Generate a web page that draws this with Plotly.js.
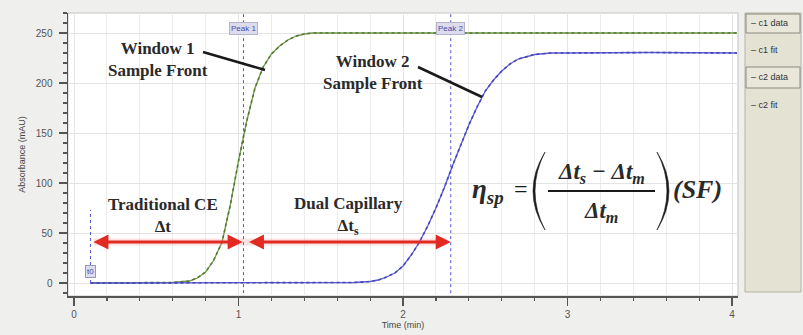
<!DOCTYPE html>
<html><head><meta charset="utf-8">
<script src="https://cdn.plot.ly/plotly-3.0.1.min.js"></script>
<style>html,body{margin:0;padding:0;background:#efefed;} #chart{width:803px;height:335px;}</style>
</head><body><div id="chart"></div>
<script>
// ---- data ----
const c1Time = [0.1,0.3,0.5,0.6,0.7,0.75,0.8,0.85,0.9,0.95,1.0,1.05,1.1,1.15,1.2,1.25,1.3,1.35,1.4,1.45,1.7,2.0,3.0,4.03];
const c1Abs  = [0,0,0,0.5,2,5,11,23,41,78,122,162,195,216,229,237,243,247,249,250,250,250,250,250];
const c2Time = [0.1,0.5,1.0,1.5,1.7,1.8,1.85,1.9,1.95,2.0,2.05,2.1,2.15,2.2,2.25,2.3,2.35,2.4,2.45,2.5,2.55,2.6,2.65,2.7,2.8,2.9,3.0,3.5,4.03];
const c2Abs  = [0,0,0,0,0.5,1.5,3,6,10,17,28,41,57,75,95,117,138,158,176,192,203,212,219,224,228.5,230,230,230.5,230];
const markerNames = ['t0','Peak 1','Peak 2'];
const markerTimes = [0.1,1.03,2.29];
const legendNames = ['c1 data','c1 fit','c2 data','c2 fit'];
const arrowLevel = 41;
const t0Top = 73;

// ---- layout helpers (pixel -> paper) ----
const L=68, R=738, T=13, B=296;
const px = v => (v-L)/(R-L);
const py = v => (B-v)/(B-T);

const green = '#6f9a48', blue = '#5c5cd6', mark = '#5555cc', red = '#e22a22';
const serif = 'Liberation Serif, Times New Roman, serif';
const sans = 'Liberation Sans, Arial, sans-serif';

const traces = [
  {x:c1Time, y:c1Abs, name:legendNames[1], mode:'lines', line:{color:green,width:1.3}},
  {x:c1Time, y:c1Abs, name:legendNames[0], mode:'lines', line:{color:'#557a35',width:1.6,dash:'dot'}},
  {x:c2Time, y:c2Abs, name:legendNames[3], mode:'lines', line:{color:blue,width:1.3}},
  {x:c2Time, y:c2Abs, name:legendNames[2], mode:'lines', line:{color:'#4646b8',width:1.6,dash:'dot'}}
];

const shapes = [
  {type:'rect', xref:'paper', yref:'paper', x0:0, x1:1, y0:0, y1:1, line:{color:'#c4c4c4',width:1}, layer:'below'},
  // peak lines
  {type:'line', xref:'x', yref:'paper', x0:markerTimes[1], x1:markerTimes[1], y0:0.01, y1:1, line:{color:mark,width:1,dash:'dot'}},
  {type:'line', xref:'x', yref:'paper', x0:markerTimes[2], x1:markerTimes[2], y0:0.01, y1:1, line:{color:mark,width:1,dash:'dot'}},
  {type:'line', xref:'x', yref:'y', x0:markerTimes[0], x1:markerTimes[0], y0:0, y1:t0Top, line:{color:mark,width:1,dash:'dot'}},
  // arrow glow
  {type:'line', xref:'x', yref:'y', x0:markerTimes[0]+0.02, x1:markerTimes[2]-0.02, y0:arrowLevel, y1:arrowLevel, line:{color:'rgba(240,120,120,0.22)',width:7}},
  // pointer lines
  {type:'line', xref:'paper', yref:'paper', x0:px(203), y0:py(52), x1:px(265), y1:py(70), line:{color:'#1a1a1a',width:2.5}},
  {type:'line', xref:'paper', yref:'paper', x0:px(418), y0:py(67), x1:px(482), y1:py(97), line:{color:'#1a1a1a',width:2.5}},
  // fraction bar
  {type:'line', xref:'paper', yref:'paper', x0:px(548), y0:py(191), x1:px(655), y1:py(191), line:{color:'#1a1a1a',width:1.8}},
  // legend panel
  {type:'rect', xref:'paper', yref:'paper', x0:px(745), x1:px(801), y0:py(292), y1:py(13), fillcolor:'#e4e2d2', line:{color:'#b5b3a3',width:1}},
  {type:'rect', xref:'paper', yref:'paper', x0:px(746), x1:px(800), y0:py(33), y1:py(14), fillcolor:'#e9e7da', line:{color:'#8c8a80',width:1}},
  {type:'rect', xref:'paper', yref:'paper', x0:px(746), x1:px(800), y0:py(88), y1:py(67), fillcolor:'#e9e7da', line:{color:'#8c8a80',width:1}}
];
// big parentheses (filled crescents)
function paren(xTip, xOutC, xInC, yTop, yBot){
  return {type:'path', xref:'paper', yref:'paper',
    path:`M ${px(xTip)} ${py(yTop)} Q ${px(xOutC)} ${py((yTop+yBot)/2)} ${px(xTip)} ${py(yBot)} Q ${px(xInC)} ${py((yTop+yBot)/2)} ${px(xTip)} ${py(yTop)} Z`,
    fillcolor:'#1a1a1a', line:{color:'#1a1a1a',width:0.6}};
}
shapes.push(paren(545,521,525,152,230));
shapes.push(paren(657,681,677,152,230));

const txt = (x,y,text,size,extra) => Object.assign({xref:'paper',yref:'paper',x:px(x),y:py(y),text:text,showarrow:false,
  xanchor:'center',yanchor:'middle',font:{family:serif,size:size,color:'#2a2a2a',weight:700}},extra||{});

const annotations = [
  txt(158,59,'Window 1<br>Sample Front',17),
  txt(373,73,'Window 2<br>Sample Front',17),
  txt(163,215,'Traditional CE<br>Δt',17),
  txt(348,216,'Dual Capillary<br>Δt<sub>s</sub>',17),
  txt(488,191,'<i>η<sub>sp</sub></i>',27),
  txt(521,189,'=',24,{font:{family:serif,size:24,color:'#1a1a1a',weight:400}}),
  txt(601,173,'<i>Δt<sub>s</sub> − Δt<sub>m</sub></i>',23),
  txt(601,212,'<i>Δt<sub>m</sub></i>',23),
  txt(697,189,'<i>(SF)</i>',26),
  // red double arrows
  {xref:'x',yref:'y',axref:'x',ayref:'y',x:markerTimes[1]-0.005,y:arrowLevel,ax:markerTimes[0],ay:arrowLevel,text:' ',showarrow:true,
   arrowside:'end+start',arrowhead:2,arrowsize:1,arrowwidth:3,arrowcolor:red,standoff:0,startstandoff:0},
  {xref:'x',yref:'y',axref:'x',ayref:'y',x:markerTimes[2],y:arrowLevel,ax:markerTimes[1]+0.015,ay:arrowLevel,text:' ',showarrow:true,
   arrowside:'end+start',arrowhead:2,arrowsize:1,arrowwidth:3,arrowcolor:red,standoff:0,startstandoff:0},
  // marker labels
  {xref:'x',yref:'paper',x:markerTimes[1],y:py(22),text:markerNames[1],showarrow:false,font:{family:sans,size:8,color:'#4a4aa8'},bgcolor:'#dcdcee',bordercolor:'#b4b4cc',borderwidth:1,borderpad:1},
  {xref:'x',yref:'paper',x:markerTimes[2],y:py(22),text:markerNames[2],showarrow:false,font:{family:sans,size:8,color:'#4a4aa8'},bgcolor:'#dcdcee',bordercolor:'#b4b4cc',borderwidth:1,borderpad:1},
  {xref:'x',yref:'y',x:markerTimes[0],y:12,text:markerNames[0],showarrow:false,font:{family:sans,size:8,color:'#4a4aa8'},bgcolor:'#dcdcee',bordercolor:'#9a9ab8',borderwidth:1,borderpad:1}
];
const legY = [23,50,77,105];
legendNames.forEach((n,i)=>annotations.push({xref:'paper',yref:'paper',x:px(749),y:py(legY[i]),xanchor:'left',yanchor:'middle',
  text:'– '+n,showarrow:false,font:{family:sans,size:9,color:'#333'}}));

const layout = {
  width:803, height:335,
  margin:{l:L, r:803-R, t:T, b:335-B, pad:0},
  paper_bgcolor:'#efefed', plot_bgcolor:'#ffffff',
  showlegend:false,
  xaxis:{range:[-0.0365,4.036], tick0:0, dtick:1, ticks:'outside', ticklen:8, tickwidth:1.2, tickcolor:'#555',
    showline:true, linecolor:'#555', linewidth:1.5, zeroline:false, showgrid:true, gridcolor:'#e4e4e4',
    minor:{dtick:0.2, ticks:'outside', ticklen:3, tickcolor:'#555', showgrid:true, gridcolor:'#ececec'},
    tickfont:{family:sans,size:10,color:'#555'},
    title:{text:'Time (min)', font:{family:sans,size:9,color:'#444'}, standoff:3}},
  yaxis:{range:[-13,270], tick0:0, dtick:50, ticks:'outside', ticklen:8, tickwidth:1.2, tickcolor:'#555',
    showline:true, linecolor:'#555', linewidth:1.5, zeroline:false, showgrid:true, gridcolor:'#e4e4e4',
    minor:{dtick:10, ticks:'outside', ticklen:4, tickcolor:'#555', showgrid:false},
    tickfont:{family:sans,size:10,color:'#555'}, ticklabelstandoff:4,
    title:{text:'Absorbance (mAU)', font:{family:sans,size:9,color:'#444'}, standoff:8}},
  shapes:shapes, annotations:annotations
};
Plotly.newPlot('chart', traces, layout, {staticPlot:true, displayModeBar:false});
</script></body></html>
